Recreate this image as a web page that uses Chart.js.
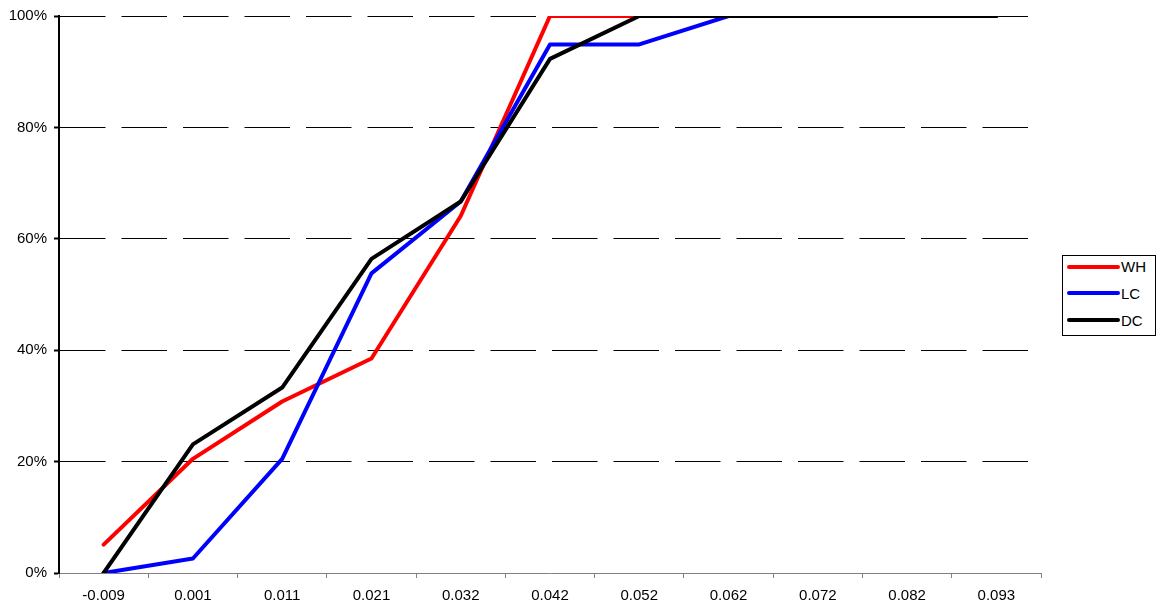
<!DOCTYPE html>
<html>
<head>
<meta charset="utf-8">
<script src="https://cdn.jsdelivr.net/npm/chart.js@4.4.0/dist/chart.umd.min.js"></script>
<style>
  body { margin: 0; background: #fff; }
  #wrap { position: relative; width: 1159px; height: 611px; }
  #leyenda {
    position: absolute; left: 1062px; top: 255px; width: 92px; height: 79px;
    border: 1px solid #000; background: #fff;
    font: 15px "Liberation Sans", Arial, sans-serif; color: #000;
  }
  .item { position: absolute; left: 4px; height: 18px; display: flex; align-items: center; }
  .linea { width: 53px; height: 4px; border-radius: 2px; margin-right: 1px; }
</style>
</head>
<body>
<div id="wrap">
  <canvas id="grafica" width="1159" height="611"></canvas>
  <div id="leyenda"></div>
</div>
<script>
const categorias = ['-0.009', '0.001', '0.011', '0.021', '0.032', '0.042', '0.052', '0.062', '0.072', '0.082', '0.093'];
const valoresWH = [5.1, 20.5, 30.8, 38.5, 64.1, 100, 100, 100, 100, 100, 100];
const valoresLC = [0, 2.6, 20.5, 53.8, 66.7, 94.9, 94.9, 100, 100, 100, 100];
const valoresDC = [0, 23.1, 33.3, 56.4, 66.7, 92.3, 100, 100, 100, 100, 100];
const ticksY = [0, 20, 40, 60, 80, 100];

const series = [
  { nombre: 'WH', valores: valoresWH, color: '#ff0000' },
  { nombre: 'LC', valores: valoresLC, color: '#0000ff' },
  { nombre: 'DC', valores: valoresDC, color: '#000000' }
];

Chart.defaults.font.family = '"Liberation Sans", Arial, sans-serif';
Chart.defaults.font.size = 15;
Chart.defaults.color = '#000';

const ctx = document.getElementById('grafica').getContext('2d');
const grafica = new Chart(ctx, {
  type: 'line',
  data: {
    labels: categorias,
    datasets: series.map((s, i) => ({
      label: s.nombre,
      data: s.valores,
      borderColor: s.color,
      backgroundColor: s.color,
      borderWidth: 4,
      borderCapStyle: 'round',
      borderJoinStyle: 'round',
      pointRadius: 0,
      tension: 0,
      fill: false,
      order: series.length - i
    }))
  },
  options: {
    responsive: false,
    animation: false,
    layout: { padding: { top: 16, right: 118, left: 0, bottom: 0 } },
    plugins: { legend: { display: false }, tooltip: { enabled: false } },
    scales: {
      x: {
        type: 'category',
        offset: true,
        afterFit: scale => { scale.height = 38; },
        grid: {
          offset: true,
          drawOnChartArea: false,
          drawTicks: true,
          tickLength: 5,
          tickColor: '#808080'
        },
        border: { color: '#808080', width: 1 },
        ticks: { autoSkip: false, maxRotation: 0, padding: 9, color: '#000' }
      },
      y: {
        min: 0,
        max: 100,
        afterFit: scale => { scale.width = 59; },
        afterBuildTicks: scale => { scale.ticks = ticksY.map(v => ({ value: v })); },
        grid: {
          color: c => (c.tick && c.tick.value === 0) ? 'rgba(0,0,0,0)' : '#000',
          lineWidth: 1,
          tickLength: 5,
          tickColor: '#000',
          tickWidth: 2
        },
        border: { color: '#000', width: 2, dash: [45.5, 16] },
        ticks: { padding: 7, color: '#000', callback: v => v + '%' }
      }
    }
  }
});

// leyenda en HTML con recuadro
const leyenda = document.getElementById('leyenda');
series.forEach((s, i) => {
  const item = document.createElement('div');
  item.className = 'item';
  item.style.top = (1.7 + i * 26.7) + 'px';
  item.innerHTML = `<span class="linea" style="background:${s.color}"></span><span>${s.nombre}</span>`;
  leyenda.appendChild(item);
});
</script>
</body>
</html>
